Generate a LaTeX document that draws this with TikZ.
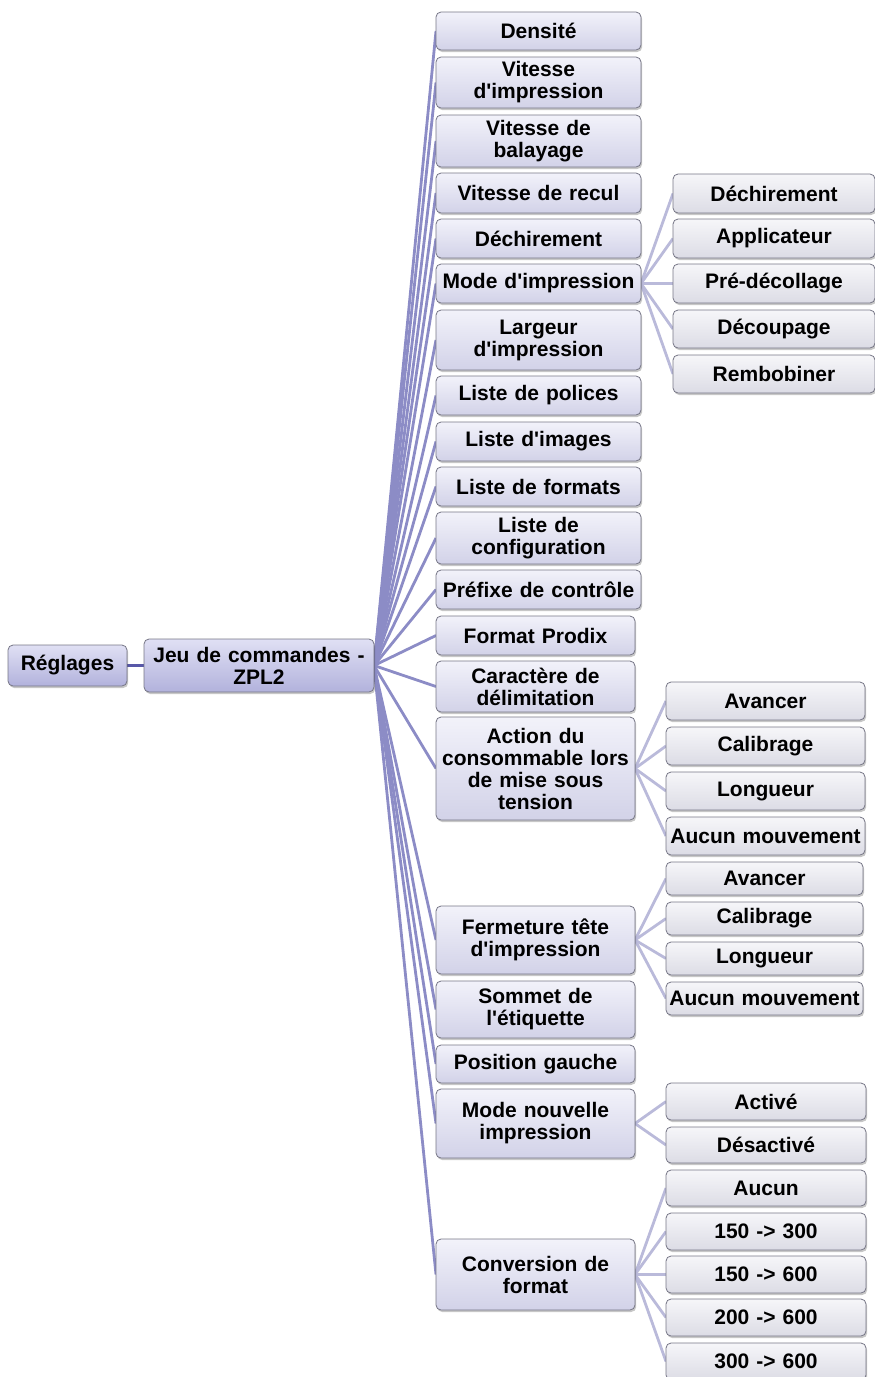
\documentclass[tikz,border=0pt]{standalone}
\usepackage{fontspec}
\setmainfont{Liberation Sans}[Ligatures=TeXOff]
\usetikzlibrary{shadows,backgrounds}
\definecolor{bord}{RGB}{118,118,134}
\definecolor{lAt}{RGB}{224,224,244}
\definecolor{lAb}{RGB}{178,178,220}
\definecolor{lBt}{RGB}{242,242,250}
\definecolor{lBb}{RGB}{210,210,232}
\definecolor{lCt}{RGB}{246,246,249}
\definecolor{lCb}{RGB}{220,220,229}
\definecolor{cA}{RGB}{88,88,168}
\definecolor{cB}{RGB}{140,140,198}
\definecolor{cC}{RGB}{186,186,218}
\tikzset{
  basebox/.style={draw=bord, line width=0.8pt, rounded corners=5pt, inner sep=0pt, outer sep=0pt,
    align=center, font=\fontsize{21}{22}\selectfont\bfseries,
    drop shadow={shadow xshift=1.2pt, shadow yshift=-2pt, opacity=0.22, fill=black}},
  boxA/.style={basebox, top color=lAt, bottom color=lAb},
  boxB/.style={basebox, top color=lBt, bottom color=lBb},
  boxC/.style={basebox, top color=lCt, bottom color=lCb},
  conA/.style={draw=cA, line width=2.6pt},
  conB/.style={draw=cB, line width=2.8pt},
  conC/.style={draw=cC, line width=2.8pt},
}
\newcommand\mkbox[7]{%
  \pgfmathsetmacro\mycx{(#2+#4)/2}%
  \pgfmathsetmacro\mycy{(#3+#5)/2}%
  \pgfmathsetmacro\myww{#4-#2}%
  \pgfmathsetmacro\myhh{#5-#3}%
  \pgfmathsetmacro\mytw{#4-#2-2}%
  \node[#6, minimum width=\myww pt, minimum height=\myhh pt, text width=\mytw pt] (#1) at (\mycx,\mycy) {#7};}
\begin{document}
\begin{tikzpicture}[x=1pt,y=-1pt]
\useasboundingbox (0,0) rectangle (875,1377);
% level 1
\mkbox{r}{8}{645}{127}{686}{boxA}{Réglages}
\mkbox{j}{144}{639}{374}{692}{boxA}{Jeu de commandes -\\ZPL2}
% level 2
\mkbox{a1}{436}{12}{641}{50}{boxB}{Densité}
\mkbox{a2}{436}{57}{641}{108}{boxB}{Vitesse\\d'impression}
\mkbox{a3}{436}{115}{641}{167}{boxB}{Vitesse de\\balayage}
\mkbox{a4}{436}{173}{641}{213}{boxB}{Vitesse de recul}
\mkbox{a5}{436}{219}{641}{258}{boxB}{Déchirement}
\mkbox{a6}{436}{264}{641}{303}{boxB}{Mode d'impression}
\mkbox{a7}{436}{310}{641}{370}{boxB}{Largeur\\d'impression}
\mkbox{a8}{436}{376}{641}{415}{boxB}{Liste de polices}
\mkbox{a9}{436}{422}{641}{461}{boxB}{Liste d'images}
\mkbox{a10}{436}{467}{641}{506}{boxB}{Liste de formats}
\mkbox{a11}{436}{512}{641}{564}{boxB}{Liste de\\configuration}
\mkbox{a12}{436}{570}{641}{609}{boxB}{Préfixe de contrôle}
\mkbox{a13}{436}{616}{635}{655}{boxB}{Format Prodix}
\mkbox{a14}{436}{661}{635}{712}{boxB}{Caractère de\\délimitation}
\mkbox{a15}{436}{717}{635}{820}{boxB}{Action du\\consommable lors\\de mise sous\\tension}
\mkbox{a16}{436}{906}{635}{974}{boxB}{Fermeture tête\\d'impression}
\mkbox{a17}{436}{981}{635}{1038}{boxB}{Sommet de\\l'étiquette}
\mkbox{a18}{436}{1045}{635}{1083}{boxB}{Position gauche}
\mkbox{a19}{436}{1089}{635}{1158}{boxB}{Mode nouvelle\\impression}
\mkbox{a20}{436}{1239}{635}{1310}{boxB}{Conversion de\\format}
% level 3
\mkbox{b1}{673}{174}{875}{213}{boxC}{Déchirement}
\mkbox{b2}{673}{219}{875}{258}{boxC}{Applicateur}
\mkbox{b3}{673}{264}{875}{303}{boxC}{Pré-décollage}
\mkbox{b4}{673}{310}{875}{348}{boxC}{Découpage}
\mkbox{b5}{673}{355}{875}{393}{boxC}{Rembobiner}
\mkbox{c1}{666}{682}{865}{720}{boxC}{Avancer}
\mkbox{c2}{666}{727}{865}{765}{boxC}{Calibrage}
\mkbox{c3}{666}{772}{865}{810}{boxC}{Longueur}
\mkbox{c4}{666}{817}{865}{855}{boxC}{Aucun mouvement}
\mkbox{e1}{666}{862}{863}{895}{boxC}{Avancer}
\mkbox{e2}{666}{902}{863}{935}{boxC}{Calibrage}
\mkbox{e3}{666}{942}{863}{975}{boxC}{Longueur}
\mkbox{e4}{666}{982}{863}{1015}{boxC}{Aucun mouvement}
\mkbox{f1}{666}{1083}{866}{1120}{boxC}{Activé}
\mkbox{f2}{666}{1127}{866}{1163}{boxC}{Désactivé}
\mkbox{g1}{666}{1170}{866}{1206}{boxC}{Aucun}
\mkbox{g2}{666}{1213}{866}{1250}{boxC}{150 -> 300}
\mkbox{g3}{666}{1256}{866}{1293}{boxC}{150 -> 600}
\mkbox{g4}{666}{1299}{866}{1336}{boxC}{200 -> 600}
\mkbox{g5}{666}{1343}{866}{1380}{boxC}{300 -> 600}
% connectors
\begin{scope}[on background layer]
\draw[conA] (r.east) -- (j.west);
\foreach \k in {1,...,20} {\draw[conB] (j.east) -- (a\k.west);}
\foreach \k in {1,...,5} {\draw[conC] (a6.east) -- (b\k.west);}
\foreach \k in {1,...,4} {\draw[conC] (a15.east) -- (c\k.west);}
\foreach \k in {1,...,4} {\draw[conC] (a16.east) -- (e\k.west);}
\foreach \k in {1,2} {\draw[conC] (a19.east) -- (f\k.west);}
\foreach \k in {1,...,5} {\draw[conC] (a20.east) -- (g\k.west);}
\end{scope}
\end{tikzpicture}
\end{document}
